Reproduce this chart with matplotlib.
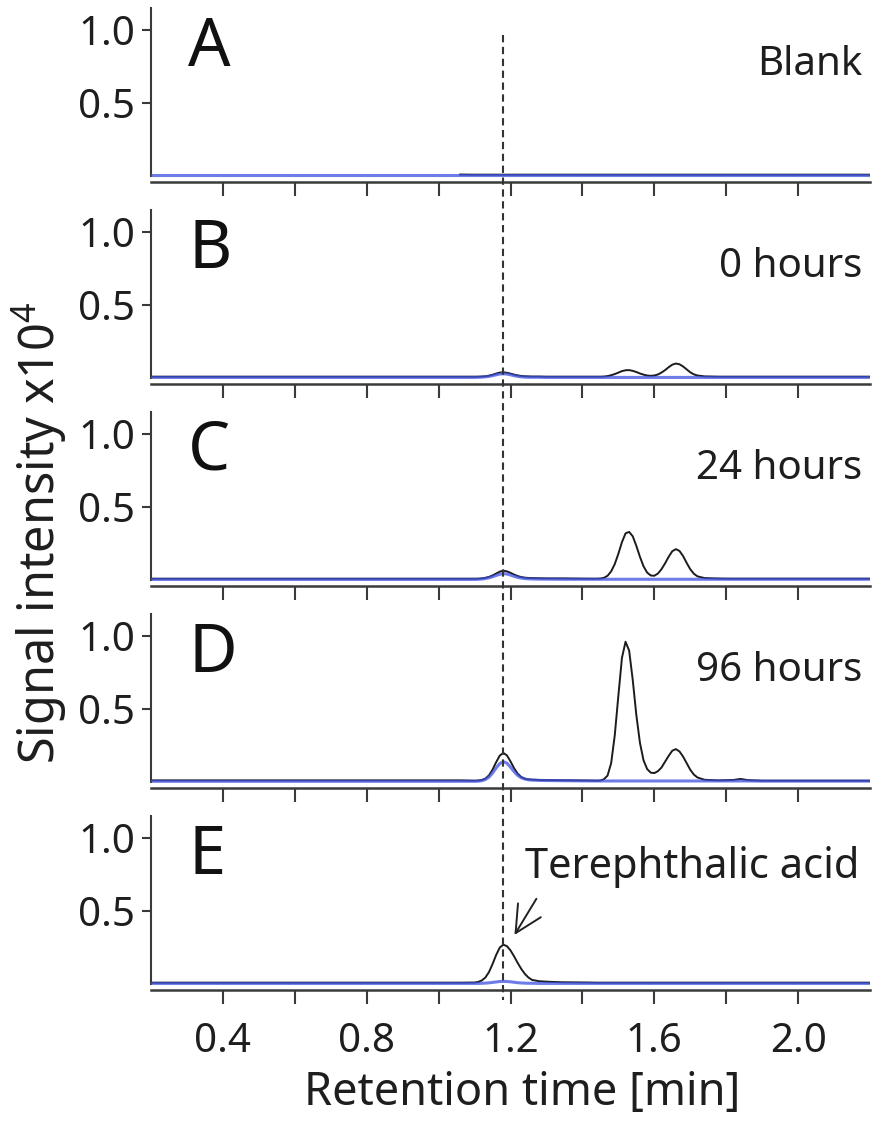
import numpy as np
import matplotlib
matplotlib.use('Agg')
import matplotlib.pyplot as plt
from matplotlib.lines import Line2D

nan = np.nan

plt.rcParams['font.family'] = ['Noto Sans', 'DejaVu Sans']
plt.rcParams['mathtext.fontset'] = 'custom'
plt.rcParams['mathtext.rm'] = 'Noto Sans'
plt.rcParams['mathtext.it'] = 'Noto Sans'

# ---------------- data ----------------
rt = [0.20, 0.40, 0.60, 0.80, 1.00, 1.06,
      1.10, 1.11, 1.12, 1.13, 1.14, 1.15, 1.16, 1.17, 1.18, 1.19, 1.20, 1.21, 1.22, 1.23, 1.24, 1.25, 1.26,
      1.28, 1.30, 1.34, 1.38, 1.42,
      1.44, 1.45, 1.46, 1.47, 1.48, 1.49, 1.50, 1.51, 1.52, 1.53, 1.54, 1.55, 1.56, 1.57, 1.58, 1.59,
      1.60, 1.61, 1.62, 1.63, 1.64, 1.65, 1.66, 1.67, 1.68, 1.69, 1.70, 1.71, 1.72,
      1.74, 1.78, 1.82, 1.84, 1.86, 1.90, 2.00, 2.10, 2.20]

black_A = [nan, nan, nan, nan, nan, 0.011,
           0.010, 0.010, 0.010, 0.010, 0.010, 0.010, 0.010, 0.010, 0.010, 0.010, 0.010, 0.010, 0.010, 0.010, 0.010, 0.010, 0.010,
           0.010, 0.010, 0.010, 0.010, 0.010,
           0.010, 0.010, 0.010, 0.010, 0.010, 0.010, 0.010, 0.010, 0.010, 0.010, 0.010, 0.010, 0.010, 0.010, 0.010, 0.010,
           0.010, 0.010, 0.010, 0.010, 0.010, 0.010, 0.010, 0.010, 0.010, 0.010, 0.010, 0.010, 0.010,
           0.010, 0.010, 0.010, 0.010, 0.010, 0.010, 0.010, 0.010, 0.010]
blue_A = [0.005, 0.005, 0.005, 0.005, 0.005, 0.005,
          0.005, 0.005, 0.005, 0.005, 0.005, 0.005, 0.005, 0.005, 0.005, 0.005, 0.005, 0.005, 0.005, 0.005, 0.005, 0.005, 0.005,
          0.005, 0.005, 0.005, 0.005, 0.005,
          0.005, 0.005, 0.005, 0.005, 0.005, 0.005, 0.005, 0.005, 0.005, 0.005, 0.005, 0.005, 0.005, 0.005, 0.005, 0.005,
          0.005, 0.005, 0.005, 0.005, 0.005, 0.005, 0.005, 0.005, 0.005, 0.005, 0.005, 0.005, 0.005,
          0.005, 0.005, 0.005, 0.005, 0.005, 0.005, 0.005, 0.005, 0.005]

black_B = [0.010, 0.010, 0.010, 0.010, 0.010, 0.010,
           0.010, 0.010, 0.011, 0.013, 0.017, 0.023, 0.031, 0.038, 0.040, 0.037, 0.031, 0.024, 0.019, 0.015, 0.013, 0.012, 0.011,
           0.011, 0.010, 0.010, 0.010, 0.010,
           0.010, 0.010, 0.011, 0.014, 0.020, 0.028, 0.038, 0.048, 0.054, 0.055, 0.050, 0.042, 0.032, 0.024, 0.018, 0.016,
           0.018, 0.025, 0.038, 0.055, 0.075, 0.092, 0.100, 0.095, 0.080, 0.060, 0.040, 0.026, 0.018,
           0.012, 0.010, 0.010, 0.010, 0.010, 0.010, 0.010, 0.010, 0.010]
blue_B = [0.005, 0.005, 0.005, 0.005, 0.005, 0.005,
          0.005, 0.006, 0.007, 0.009, 0.012, 0.017, 0.023, 0.028, 0.030, 0.028, 0.023, 0.017, 0.012, 0.009, 0.007, 0.006, 0.006,
          0.006, 0.005, 0.005, 0.005, 0.005,
          0.005, 0.005, 0.005, 0.005, 0.005, 0.005, 0.005, 0.005, 0.005, 0.005, 0.005, 0.005, 0.005, 0.005, 0.005, 0.005,
          0.005, 0.005, 0.005, 0.005, 0.005, 0.005, 0.005, 0.005, 0.005, 0.005, 0.005, 0.005, 0.005,
          0.005, 0.005, 0.005, 0.005, 0.005, 0.005, 0.005, 0.005, 0.005]

black_C = [0.010, 0.010, 0.010, 0.010, 0.010, 0.010,
           0.010, 0.010, 0.012, 0.016, 0.022, 0.032, 0.045, 0.058, 0.065, 0.060, 0.050, 0.038, 0.028, 0.021, 0.017, 0.015, 0.014,
           0.013, 0.012, 0.012, 0.011, 0.010,
           0.010, 0.011, 0.016, 0.030, 0.060, 0.110, 0.180, 0.260, 0.320, 0.330, 0.300, 0.235, 0.160, 0.095, 0.052, 0.032,
           0.030, 0.045, 0.075, 0.115, 0.160, 0.198, 0.212, 0.200, 0.165, 0.118, 0.075, 0.044, 0.026,
           0.014, 0.011, 0.010, 0.010, 0.010, 0.010, 0.010, 0.010, 0.010]
blue_C = [0.005, 0.005, 0.005, 0.005, 0.005, 0.005,
          0.005, 0.006, 0.008, 0.011, 0.016, 0.023, 0.032, 0.040, 0.045, 0.042, 0.035, 0.026, 0.019, 0.014, 0.011, 0.009, 0.008,
          0.007, 0.007, 0.006, 0.006, 0.006,
          0.006, 0.006, 0.006, 0.006, 0.006, 0.006, 0.006, 0.006, 0.006, 0.006, 0.006, 0.006, 0.006, 0.006, 0.006, 0.006,
          0.006, 0.006, 0.006, 0.006, 0.006, 0.006, 0.006, 0.006, 0.006, 0.006, 0.006, 0.006, 0.006,
          0.006, 0.006, 0.006, 0.006, 0.006, 0.006, 0.006, 0.006, 0.006]

black_D = [0.012, 0.012, 0.012, 0.012, 0.012, 0.012,
           0.010, 0.011, 0.015, 0.024, 0.046, 0.085, 0.136, 0.181, 0.200, 0.183, 0.142, 0.095, 0.058, 0.035, 0.024, 0.019, 0.017,
           0.015, 0.014, 0.013, 0.012, 0.011,
           0.010, 0.011, 0.020, 0.045, 0.130, 0.320, 0.590, 0.850, 0.960, 0.900, 0.700, 0.460, 0.270, 0.150, 0.090, 0.065,
           0.062, 0.075, 0.100, 0.140, 0.180, 0.215, 0.226, 0.210, 0.175, 0.130, 0.085, 0.052, 0.032,
           0.016, 0.012, 0.015, 0.022, 0.014, 0.010, 0.010, 0.010, 0.010]
blue_D = [0.006, 0.006, 0.006, 0.006, 0.006, 0.006,
          0.006, 0.007, 0.010, 0.018, 0.034, 0.062, 0.097, 0.127, 0.140, 0.130, 0.103, 0.072, 0.046, 0.030, 0.021, 0.016, 0.014,
          0.012, 0.011, 0.010, 0.009, 0.008,
          0.008, 0.008, 0.008, 0.008, 0.008, 0.008, 0.008, 0.008, 0.008, 0.008, 0.008, 0.008, 0.008, 0.008, 0.008, 0.008,
          0.008, 0.008, 0.008, 0.008, 0.008, 0.008, 0.008, 0.008, 0.008, 0.008, 0.008, 0.008, 0.008,
          0.008, 0.008, 0.008, 0.008, 0.008, 0.007, 0.007, 0.007, 0.007]

black_E = [0.010, 0.010, 0.010, 0.010, 0.010, 0.010,
           0.011, 0.015, 0.025, 0.045, 0.082, 0.137, 0.199, 0.250, 0.270, 0.260, 0.231, 0.190, 0.145, 0.104, 0.070, 0.045, 0.029,
           0.020, 0.017, 0.013, 0.012, 0.011,
           0.010, 0.010, 0.010, 0.010, 0.010, 0.010, 0.010, 0.010, 0.010, 0.010, 0.010, 0.010, 0.010, 0.010, 0.010, 0.010,
           0.010, 0.010, 0.010, 0.010, 0.010, 0.010, 0.010, 0.010, 0.010, 0.010, 0.010, 0.010, 0.010,
           0.010, 0.010, 0.010, 0.010, 0.010, 0.010, 0.010, 0.010, 0.010]
blue_E = [0.005, 0.005, 0.005, 0.005, 0.005, 0.005,
          0.005, 0.005, 0.006, 0.007, 0.009, 0.012, 0.015, 0.018, 0.019, 0.018, 0.016, 0.013, 0.010, 0.008, 0.007, 0.006, 0.006,
          0.005, 0.005, 0.005, 0.005, 0.005,
          0.005, 0.005, 0.005, 0.005, 0.005, 0.005, 0.005, 0.005, 0.005, 0.005, 0.005, 0.005, 0.005, 0.005, 0.005, 0.005,
          0.005, 0.005, 0.005, 0.005, 0.005, 0.005, 0.005, 0.005, 0.005, 0.005, 0.005, 0.005, 0.005,
          0.005, 0.005, 0.005, 0.005, 0.005, 0.005, 0.005, 0.005, 0.005]

panel_letters = ['A', 'B', 'C', 'D', 'E']
panel_titles = ['Blank', '0 hours', '24 hours', '96 hours', '']
black_series = [black_A, black_B, black_C, black_D, black_E]
blue_series = [blue_A, blue_B, blue_C, blue_D, blue_E]

x_ticks = [0.4, 0.6, 0.8, 1.0, 1.2, 1.4, 1.6, 1.8, 2.0]
x_ticklabels = ['0.4', '', '0.8', '', '1.2', '', '1.6', '', '2.0']
y_ticks = [0.5, 1.0]
y_ticklabels = ['0.5', '1.0']
marker_rt = 1.18

# ---------------- figure ----------------
W, H = 872, 1126
fig = plt.figure(figsize=(W / 100, H / 100), dpi=100)
left_px, right_px = 151, 870
spine_col = '#3a3a3a'
text_col = '#1e1e1e'
axes = []
for i in range(5):
    top = 8 + 202 * i
    bot = 182 + 202 * i
    ax = fig.add_axes([left_px / W, 1 - bot / H, (right_px - left_px) / W, (bot - top) / H])
    ax.set_xlim(0.2, 2.2)
    ax.set_ylim(-0.04, 1.15)
    ax.plot(rt, black_series[i], color='#1c1c1c', lw=1.4, zorder=3)
    ax.plot(rt, blue_series[i], color='#3d50e0', lw=2.2, alpha=0.75, zorder=4)
    for s in ['top', 'right']:
        ax.spines[s].set_visible(False)
    ax.spines['left'].set_bounds(0, 1.15)
    ax.spines['left'].set_color(spine_col)
    ax.spines['bottom'].set_color(spine_col)
    ax.spines['left'].set_linewidth(1.5)
    ax.spines['bottom'].set_linewidth(1.8)
    ax.set_yticks(y_ticks)
    ax.set_yticklabels(y_ticklabels)
    ax.set_xticks(x_ticks)
    if i == 4:
        ax.set_xticklabels(x_ticklabels)
    else:
        ax.set_xticklabels([''] * len(x_ticks))
    ax.tick_params(axis='x', direction='out', length=10, width=1.5, color=spine_col,
                   labelsize=29, pad=13, labelcolor=text_col)
    ax.tick_params(axis='y', direction='out', length=6.5, width=1.5, color=spine_col,
                   labelsize=29, pad=5, labelcolor=text_col)
    ax.patch.set_visible(False)
    ax.text(0.303, 0.877, panel_letters[i], fontsize=48, ha='left', va='center', color='#111111')
    if panel_titles[i]:
        ax.text(2.178, 0.76, panel_titles[i], fontsize=29, ha='right', va='center', color=text_col)
    axes.append(ax)

# annotation in panel E
axes[4].text(1.24, 0.80, 'Terephthalic acid', fontsize=30, ha='left', va='center', color=text_col)
axes[4].annotate('', xy=(1.207, 0.32), xytext=(1.276, 0.60),
                 arrowprops=dict(arrowstyle='->', lw=1.4, color='#222222', mutation_scale=48))

# dashed marker line across all panels
xf = fig.transFigure.inverted().transform(axes[0].transData.transform((marker_rt, 0)))[0]
fig.add_artist(Line2D([xf, xf], [1 - 35 / H, 1 - 1000 / H], transform=fig.transFigure,
                      color='#333333', lw=1.5, dashes=(3.5, 2.2), zorder=10))

fig.text(0.046, 0.527, 'Signal intensity x10$^4$', rotation=90, ha='center', va='center',
         fontsize=35, color=text_col)
fig.text(522 / W, 1 - 1093 / H, 'Retention time [min]', ha='center', va='center',
         fontsize=32.5, color=text_col)

fig.savefig('out.png', dpi=100, facecolor='white')
